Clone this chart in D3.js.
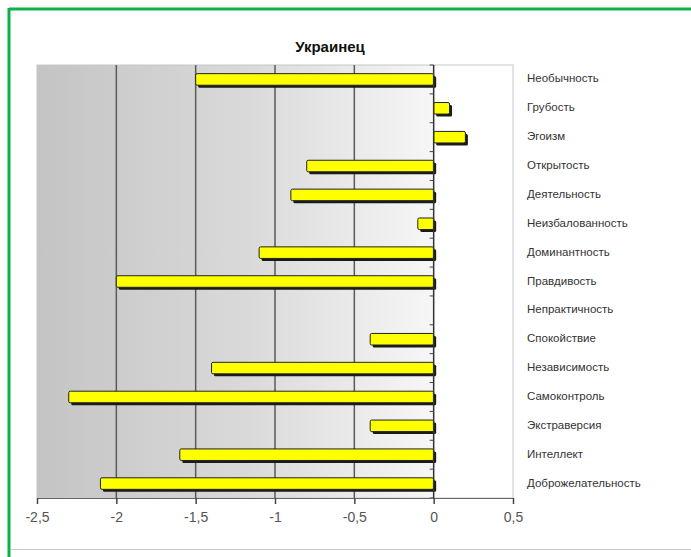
<!DOCTYPE html>
<meta charset="utf-8">
<style>
  body { margin: 0; background: #fff; }
  text { font-family: "Liberation Sans", Arial, sans-serif; }
</style>
<body>
<svg id="chart" width="691" height="557"></svg>
</body>
<script src="https://d3js.org/d3.v7.min.js"></script>
<script>

var categories = ["Необычность", "Грубость", "Эгоизм", "Открытость", "Деятельность",
  "Неизбалованность", "Доминантность", "Правдивость", "Непрактичность", "Спокойствие",
  "Независимость", "Самоконтроль", "Экстраверсия", "Интеллект", "Доброжелательность"];
var values = [-1.5, 0.1, 0.2, -0.8, -0.9, -0.1, -1.1, -2.0, 0, -0.4, -1.4, -2.3, -0.4, -1.6, -2.1];
var xTicks = [-2.5, -2, -1.5, -1, -0.5, 0, 0.5];
var title = "Украинец";

var rows = categories.map(function(c, i) { return {name: c, value: values[i]}; });

var svg = d3.select("#chart"),
    margin = {top: 65, left: 37, right: 178, bottom: 59},
    width = +svg.attr("width") - margin.left - margin.right,
    height = +svg.attr("height") - margin.top - margin.bottom;

// frame: green left/top border and gray line at bottom
svg.append("line").attr("x1", 9).attr("x2", 691).attr("y1", 9).attr("y2", 9)
  .attr("stroke", "#0db14b").attr("stroke-width", 3);
svg.append("line").attr("x1", 9).attr("x2", 9).attr("y1", 8).attr("y2", 557)
  .attr("stroke", "#0db14b").attr("stroke-width", 3);
svg.append("line").attr("x1", 11).attr("x2", 691).attr("y1", 549.5).attr("y2", 549.5)
  .attr("stroke", "#c8c8c8").attr("stroke-width", 1);

var defs = svg.append("defs");
var grad = defs.append("linearGradient").attr("id", "bg").attr("x1", "0").attr("x2", "1").attr("y1", "0").attr("y2", "0");
grad.append("stop").attr("offset", "0%").attr("stop-color", "#c4c4c4");
grad.append("stop").attr("offset", "45%").attr("stop-color", "#dadada");
grad.append("stop").attr("offset", "83%").attr("stop-color", "#f6f6f6");
grad.append("stop").attr("offset", "84%").attr("stop-color", "#ffffff");
grad.append("stop").attr("offset", "100%").attr("stop-color", "#ffffff");

var g = svg.append("g").attr("transform", "translate(" + margin.left + "," + margin.top + ")");

var x = d3.scaleLinear().domain([-2.5, 0.5]).range([0, width]);
var y = d3.scaleBand().domain(categories).range([0, height]).paddingInner(0.6).paddingOuter(0.3);
var yb = d3.scaleBand().domain(categories).range([0, height]);

g.append("rect").attr("width", width).attr("height", height)
  .attr("fill", "url(#bg)").attr("stroke", "#c8c8c8").attr("stroke-width", 1);

// vertical gridlines
g.selectAll(".grid").data(xTicks.filter(function(d) { return d > -2.5 && d < 0; }))
  .enter().append("line")
  .attr("x1", function(d) { return x(d); }).attr("x2", function(d) { return x(d); })
  .attr("y1", 0).attr("y2", height)
  .attr("stroke", "#5a5a5a").attr("stroke-width", 1.5);

// bars: shadow then face
var bars = g.selectAll(".bar").data(rows.filter(function(d) { return d.value !== 0; }))
  .enter().append("g").attr("class", "bar");
bars.append("rect")
  .attr("x", function(d) { return Math.min(x(d.value), x(0)) + 2.5; })
  .attr("y", function(d) { return y(d.name) + 2.5; })
  .attr("width", function(d) { return Math.abs(x(d.value) - x(0)); })
  .attr("height", y.bandwidth())
  .attr("rx", 1.5)
  .attr("fill", "#1a1a1a");
bars.append("rect")
  .attr("x", function(d) { return Math.min(x(d.value), x(0)); })
  .attr("y", function(d) { return y(d.name); })
  .attr("width", function(d) { return Math.abs(x(d.value) - x(0)); })
  .attr("height", y.bandwidth())
  .attr("rx", 1.5)
  .attr("fill", "#ffff00").attr("stroke", "#222").attr("stroke-width", 1);

// zero axis with small ticks between categories
g.append("line").attr("x1", x(0)).attr("x2", x(0)).attr("y1", 0).attr("y2", height)
  .attr("stroke", "#333").attr("stroke-width", 1.5);
g.selectAll(".ytick").data(d3.range(categories.length + 1))
  .enter().append("line")
  .attr("x1", x(0) - 4).attr("x2", x(0))
  .attr("y1", function(d) { return d * yb.step(); })
  .attr("y2", function(d) { return d * yb.step(); })
  .attr("stroke", "#444");

// category labels on the right
g.selectAll(".lab").data(categories).enter().append("text")
  .attr("x", width + 14)
  .attr("y", function(d) { return yb(d) + yb.bandwidth() / 2 - 1; })
  .attr("dy", "0.35em")
  .attr("fill", "#333")
  .style("font-size", "11.5px")
  .text(function(d) { return d; });

// bottom axis
var xAxis = g.append("g").attr("transform", "translate(0," + height + ")")
  .call(d3.axisBottom(x).tickValues(xTicks).tickSize(6).tickPadding(8)
    .tickFormat(function(d) { return String(d).replace(".", ","); }));
xAxis.select(".domain").attr("stroke", "#666");
xAxis.selectAll(".tick line").attr("stroke", "#444").attr("stroke-width", 1.5);
xAxis.selectAll("text").attr("fill", "#555").style("font-size", "14px")
  .style("font-family", "'Liberation Sans', Arial, sans-serif");

// title
svg.append("text").attr("x", 330).attr("y", 52)
  .attr("text-anchor", "middle").attr("fill", "#111")
  .style("font-size", "15px").style("font-weight", "bold")
  .text(title);
</script>
